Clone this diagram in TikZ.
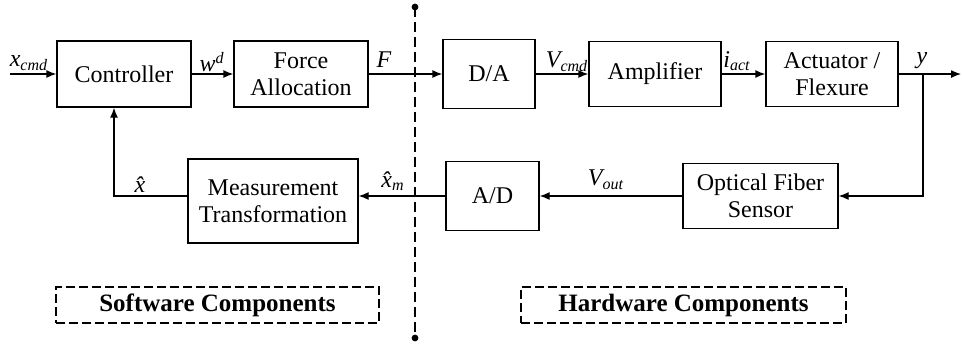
\documentclass[tikz,border=0pt]{standalone}
\usepackage{fontspec}
\setmainfont{Liberation Serif}
\usetikzlibrary{arrows.meta}
\begin{document}
\begin{tikzpicture}[x=0.5pt,y=-0.5pt,
  block/.style={draw,line width=0.65pt,align=center,inner sep=0pt,
    font=\fontsize{12}{13.5}\selectfont},
  sig/.style={line width=0.65pt,-{Latex[length=5pt,width=4pt]}},
  lbl/.style={inner sep=0pt,font=\fontsize{12}{13}\selectfont\itshape},
  group/.style={draw,line width=1pt,dash pattern=on 4.5pt off 2pt,
    font=\fontsize{12.5}{13}\selectfont\bfseries},
  divider/.style={line width=1.1pt,dash pattern=on 5pt off 2.5pt}]
\useasboundingbox (0,0) rectangle (962,345);

% forward path blocks (sizes in pt = half the coordinate units)
\node[block,minimum width=67pt,minimum height=33pt] (ctrl) at (124,74) {Controller};
\node[block,minimum width=67pt,minimum height=33pt] (force) at (301,74) {Force\\Allocation};
\node[block,minimum width=46pt,minimum height=34.5pt] (da) at (489,74) {D/A};
\node[block,minimum width=66pt,minimum height=32.5pt] (amp) at (655,74) {Amplifier};
\node[block,minimum width=66pt,minimum height=32.5pt] (act) at (832,74) {Actuator /\\Flexure};

% feedback path blocks
\node[block,minimum width=77.5pt,minimum height=32.5pt] (ofs) at (760.5,196) {Optical Fiber\\Sensor};
\node[block,minimum width=46.5pt,minimum height=34.5pt] (ad) at (492.5,196) {A/D};
\node[block,minimum width=85pt,minimum height=42pt] (mt) at (273,201) {Measurement\\Transformation};

% free ends and corners
\coordinate (in) at (10,74);
\coordinate (out) at (961,74);
\coordinate (br) at (923,74);
\coordinate (fb) at (114,196);

% forward connections
\draw[sig] (in) -- (ctrl.west);
\draw[sig] (ctrl.east) -- (force.west);
\draw[sig] (force.east) -- (da.west);
\draw[sig] (da.east) -- (amp.west);
\draw[sig] (amp.east) -- (act.west);
\draw[sig] (act.east) -- (out);

% feedback connections
\draw[sig] (br) -- (br |- ofs.east) -- (ofs.east);
\draw[sig] (ofs.west) -- (ad.east);
\draw[sig] (ad.west) -- (mt.east |- ad.west);
\draw[sig] (mt.west |- fb) -- (fb) -- (fb |- ctrl.south);

% signal labels
\node[lbl] (lxcmd) at (29,63) {x\textsubscript{cmd}};
\node[lbl] (lwd) at (212,62) {w\textsuperscript{d}};
\node[lbl] (lF) at (384,60) {F};
\node[lbl] (lvcmd) at (567,62) {V\textsubscript{cmd}};
\node[lbl] (liact) at (737,61) {i\textsubscript{act}};
\node[lbl] (ly) at (922,61) {y};
\node[lbl] (lxhat) at (140,185) {\^{x}};
\node[lbl] (lxm) at (393,181) {\^{x}\textsubscript{m}};
\node[lbl] (lvout) at (606,180) {V\textsubscript{out}};

% software / hardware boundary
\coordinate (dtop) at (415,7);
\coordinate (dbot) at (415,338);
\draw[divider] (dtop) -- (dbot);
\fill (dtop) circle (1.7pt);
\fill (dbot) circle (1.7pt);

% group captions
\node[group,minimum width=161.5pt,minimum height=13pt] (sw) at (217.5,305) {Software Components};
\node[group,minimum width=162.5pt,minimum height=13pt] (hw) at (683.5,305) {Hardware Components};
\end{tikzpicture}
\end{document}
